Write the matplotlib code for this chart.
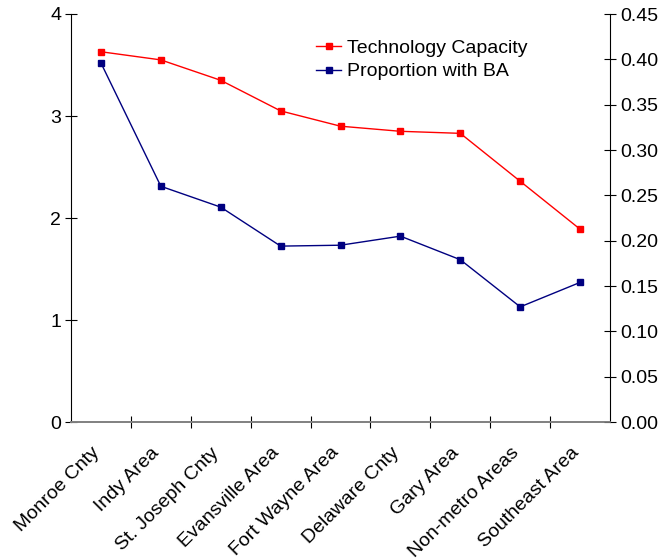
import matplotlib
matplotlib.use('Agg')
from matplotlib import pyplot as plt
from matplotlib.transforms import ScaledTranslation

plt.rcParams['font.family'] = ['Liberation Sans', 'DejaVu Sans']

regioes = ['Monroe Cnty', 'Indy Area', 'St. Joseph Cnty', 'Evansville Area',
           'Fort Wayne Area', 'Delaware Cnty', 'Gary Area', 'Non-metro Areas',
           'Southeast Area']
tech_capacity = [3.63, 3.55, 3.35, 3.05, 2.90, 2.85, 2.83, 2.36, 1.89]
prop_ba = [0.396, 0.260, 0.237, 0.194, 0.195, 0.205, 0.179, 0.127, 0.154]

fig = plt.figure(figsize=(6.66, 5.6), dpi=100)
ax = fig.add_axes([0.1066, 0.2464, 0.8094, 0.7286])
ax2 = ax.twinx()

x = list(range(len(regioes)))
l1, = ax.plot(x, tech_capacity, color='#ff0000', lw=1, marker='s', ms=5,
              label='Technology Capacity')
l2, = ax2.plot(x, prop_ba, color='#000080', lw=1, marker='s', ms=5,
               label='Proportion with BA')

ax.set_xlim(-0.5, len(regioes) - 0.5)
ax.set_ylim(0, 4)
ax.set_yticks([0, 1, 2, 3, 4])
ax2.set_ylim(0, 0.45)
ax2.set_yticks([i * 0.05 for i in range(10)])
ax2.set_yticklabels([f'{i * 0.05:.2f}' for i in range(10)])

for a in (ax, ax2):
    a.spines['top'].set_visible(False)
    a.spines['bottom'].set_color('#808080')
    a.spines['bottom'].set_linewidth(1.2)
ax2.spines['left'].set_visible(False)
ax.spines['right'].set_visible(False)

ax.tick_params(axis='y', direction='inout', length=8, labelsize=14, pad=3)
ax2.tick_params(axis='y', direction='inout', length=8, labelsize=14, pad=3)

ax.set_xticks([i + 0.5 for i in range(len(regioes) - 1)], minor=False)
ax.set_xticklabels([])
ax.tick_params(axis='x', direction='inout', length=8, color='black')
ax.set_xticks(x, minor=True)
ax.set_xticklabels(regioes, minor=True, rotation=45, ha='right',
                   rotation_mode='anchor', fontsize=14)
ax.tick_params(axis='x', which='minor', length=0, pad=16)
desloc = ScaledTranslation(-10 / 100, 0, fig.dpi_scale_trans)
for lbl in ax.get_xticklabels(minor=True):
    lbl.set_transform(lbl.get_transform() + desloc)

fig.legend(handles=[l1, l2], loc='upper left', bbox_to_anchor=(0.448, 0.961),
           frameon=False, fontsize=14, handlelength=1.3, handletextpad=0.3,
           labelspacing=0.3)

fig.savefig('out.png', dpi=100)
plt.close()
